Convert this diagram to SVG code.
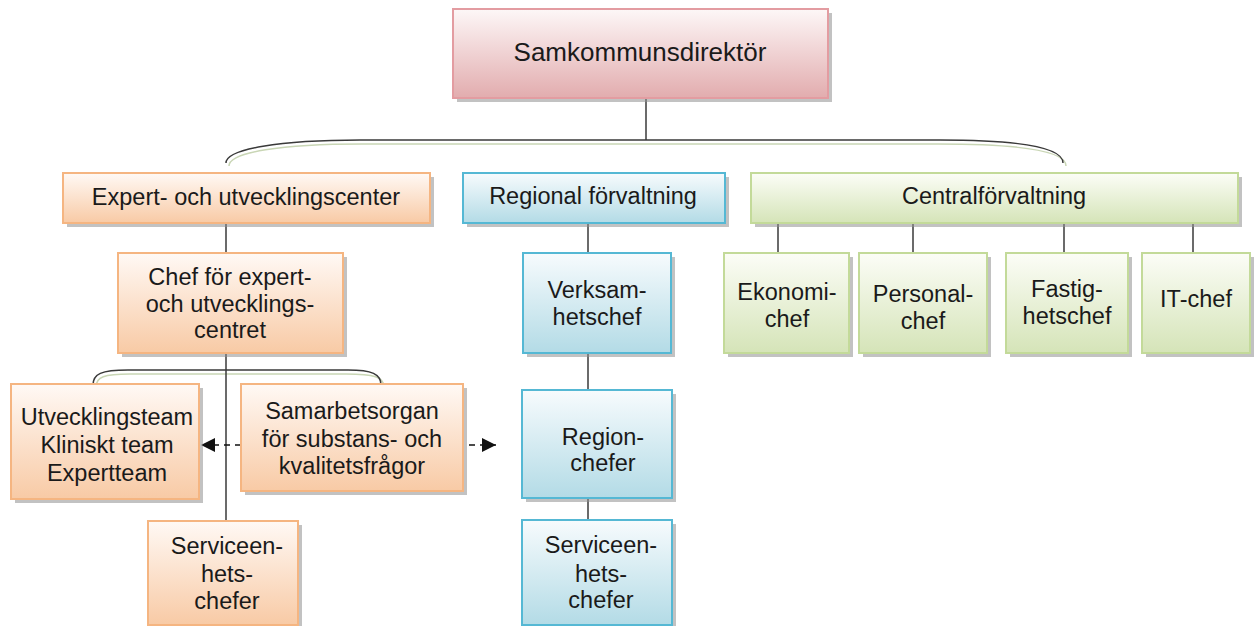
<svg xmlns="http://www.w3.org/2000/svg" width="1257" height="626" viewBox="0 0 1257 626">
<defs>
<linearGradient id="gPink" x1="0" y1="0" x2="0" y2="1"><stop offset="0" stop-color="#fdf7f7"/><stop offset="1" stop-color="#e2acae"/></linearGradient>
<linearGradient id="gOrange" x1="0" y1="0" x2="0" y2="1"><stop offset="0" stop-color="#fff9f5"/><stop offset="1" stop-color="#f8caa5"/></linearGradient>
<linearGradient id="gBlue" x1="0" y1="0" x2="0" y2="1"><stop offset="0" stop-color="#f7fbfd"/><stop offset="1" stop-color="#b3dbe6"/></linearGradient>
<linearGradient id="gGreen" x1="0" y1="0" x2="0" y2="1"><stop offset="0" stop-color="#fcfdf7"/><stop offset="1" stop-color="#d5e4b8"/></linearGradient>
<marker id="arr" viewBox="0 0 10 10" refX="10" refY="5" markerWidth="16" markerHeight="14" markerUnits="userSpaceOnUse" orient="auto"><path d="M0,0 L10,5 L0,10 Z" fill="#111"/></marker>
</defs>
<style>
text{font-family:"Liberation Sans",Arial,sans-serif;font-size:23.5px;fill:#1a1a1a;text-anchor:middle}
.sh{fill:#8f8f8f;opacity:.55}
.pink{fill:url(#gPink);stroke:#e39ca1;stroke-width:2}
.orange{fill:url(#gOrange);stroke:#f5b581;stroke-width:2}
.blue{fill:url(#gBlue);stroke:#55b8d4;stroke-width:2}
.green{fill:url(#gGreen);stroke:#c3da99;stroke-width:2}
.ln{stroke:#3a3a3a;stroke-width:1.5;fill:none}
.br2{stroke:#c9d6b5;stroke-width:1.5;fill:none}
.dash{stroke:#111;stroke-width:1.5;fill:none;stroke-dasharray:6 5}
</style>
<rect width="1257" height="626" fill="#fff"/>

<g id="connectors">
<line class="ln" x1="646" y1="99" x2="646" y2="140"/>
<path class="br2" d="M229,166 C229,152 282,144 362,144 L938,144 C1028,144 1066,152 1066,166"/>
<path class="ln" d="M226,163 C226,149 280,140 360,140 L940,140 C1030,140 1063,149 1063,163"/>
<line class="ln" x1="226" y1="224" x2="226" y2="253"/>
<path class="br2" d="M96,387 C96,377 104,374 130,374 L346,374 C374,374 384,377 384,387"/>
<path class="ln" d="M93,385 C93,374 101,370 128,370 L348,370 C372,370 381,374 381,385"/>
<line class="ln" x1="226" y1="353" x2="226" y2="521"/>
<line class="ln" x1="588" y1="224" x2="588" y2="253"/>
<line class="ln" x1="588" y1="353" x2="588" y2="390"/>
<line class="ln" x1="588" y1="498" x2="588" y2="520"/>
<line class="ln" x1="778" y1="224" x2="778" y2="253"/>
<line class="ln" x1="913" y1="224" x2="913" y2="253"/>
<line class="ln" x1="1064" y1="224" x2="1064" y2="253"/>
<line class="ln" x1="1193" y1="224" x2="1193" y2="253"/>
<line class="dash" x1="241" y1="445" x2="201" y2="445" marker-end="url(#arr)"/>
<line class="dash" x1="469" y1="445" x2="496" y2="445" marker-end="url(#arr)"/>
</g>

<g id="samkommunsdirektor">
<rect class="sh" x="457" y="13" width="375" height="89"/>
<rect class="pink" x="453" y="9" width="375" height="89"/>
<text x="640" y="61" style="font-size:26px">Samkommunsdirektör</text>
</g>

<g id="expert-center">
<rect class="sh" x="67" y="177" width="367" height="50"/>
<rect class="orange" x="63" y="173" width="367" height="50"/>
<text x="246" y="205">Expert- och utvecklingscenter</text>
</g>

<g id="regional">
<rect class="sh" x="467" y="177" width="262" height="50"/>
<rect class="blue" x="463" y="173" width="262" height="50"/>
<text x="593" y="204">Regional förvaltning</text>
</g>

<g id="central">
<rect class="sh" x="755" y="177" width="487" height="50"/>
<rect class="green" x="751" y="173" width="487" height="50"/>
<text x="994" y="204">Centralförvaltning</text>
</g>

<g id="chef-expert">
<rect class="sh" x="122" y="257" width="225" height="100"/>
<rect class="orange" x="118" y="253" width="225" height="100"/>
<text x="230" y="285">Chef för expert-</text>
<text x="230" y="312">och utvecklings-</text>
<text x="230" y="338">centret</text>
</g>

<g id="verksamhetschef">
<rect class="sh" x="527" y="257" width="148" height="100"/>
<rect class="blue" x="523" y="253" width="148" height="100"/>
<text x="597" y="298">Verksam-</text>
<text x="597" y="325">hetschef</text>
</g>

<g id="ekonomichef">
<rect class="sh" x="728" y="257" width="125" height="100"/>
<rect class="green" x="724" y="253" width="125" height="100"/>
<text x="787" y="300">Ekonomi-</text>
<text x="787" y="327">chef</text>
</g>

<g id="personalchef">
<rect class="sh" x="863" y="257" width="128" height="100"/>
<rect class="green" x="859" y="253" width="128" height="100"/>
<text x="923" y="302">Personal-</text>
<text x="923" y="329">chef</text>
</g>

<g id="fastighetschef">
<rect class="sh" x="1010" y="257" width="122" height="100"/>
<rect class="green" x="1006" y="253" width="122" height="100"/>
<text x="1067" y="297">Fastig-</text>
<text x="1067" y="324">hetschef</text>
</g>

<g id="it-chef">
<rect class="sh" x="1146" y="257" width="108" height="100"/>
<rect class="green" x="1142" y="253" width="108" height="100"/>
<text x="1196" y="307">IT-chef</text>
</g>

<g id="utvecklingsteam">
<rect class="sh" x="15" y="388" width="188" height="115"/>
<rect class="orange" x="11" y="384" width="188" height="115"/>
<text x="107" y="425">Utvecklingsteam</text>
<text x="107" y="453">Kliniskt team</text>
<text x="107" y="481">Expertteam</text>
</g>

<g id="samarbetsorgan">
<rect class="sh" x="245" y="388" width="222" height="107"/>
<rect class="orange" x="241" y="384" width="222" height="107"/>
<text x="352" y="419">Samarbetsorgan</text>
<text x="352" y="447">för substans- och</text>
<text x="352" y="474">kvalitetsfrågor</text>
</g>

<g id="regionchefer">
<rect class="sh" x="526" y="394" width="150" height="108"/>
<rect class="blue" x="522" y="390" width="150" height="108"/>
<text x="603" y="445">Region-</text>
<text x="603" y="471">chefer</text>
</g>

<g id="serviceenhet-orange">
<rect class="sh" x="152" y="525" width="150" height="105"/>
<rect class="orange" x="148" y="521" width="150" height="104"/>
<text x="227" y="554">Serviceen-</text>
<text x="227" y="582">hets-</text>
<text x="227" y="609">chefer</text>
</g>

<g id="serviceenhet-blue">
<rect class="sh" x="526" y="524" width="150" height="106"/>
<rect class="blue" x="522" y="520" width="150" height="105"/>
<text x="601" y="553">Serviceen-</text>
<text x="601" y="582">hets-</text>
<text x="601" y="608">chefer</text>
</g>
</svg>
